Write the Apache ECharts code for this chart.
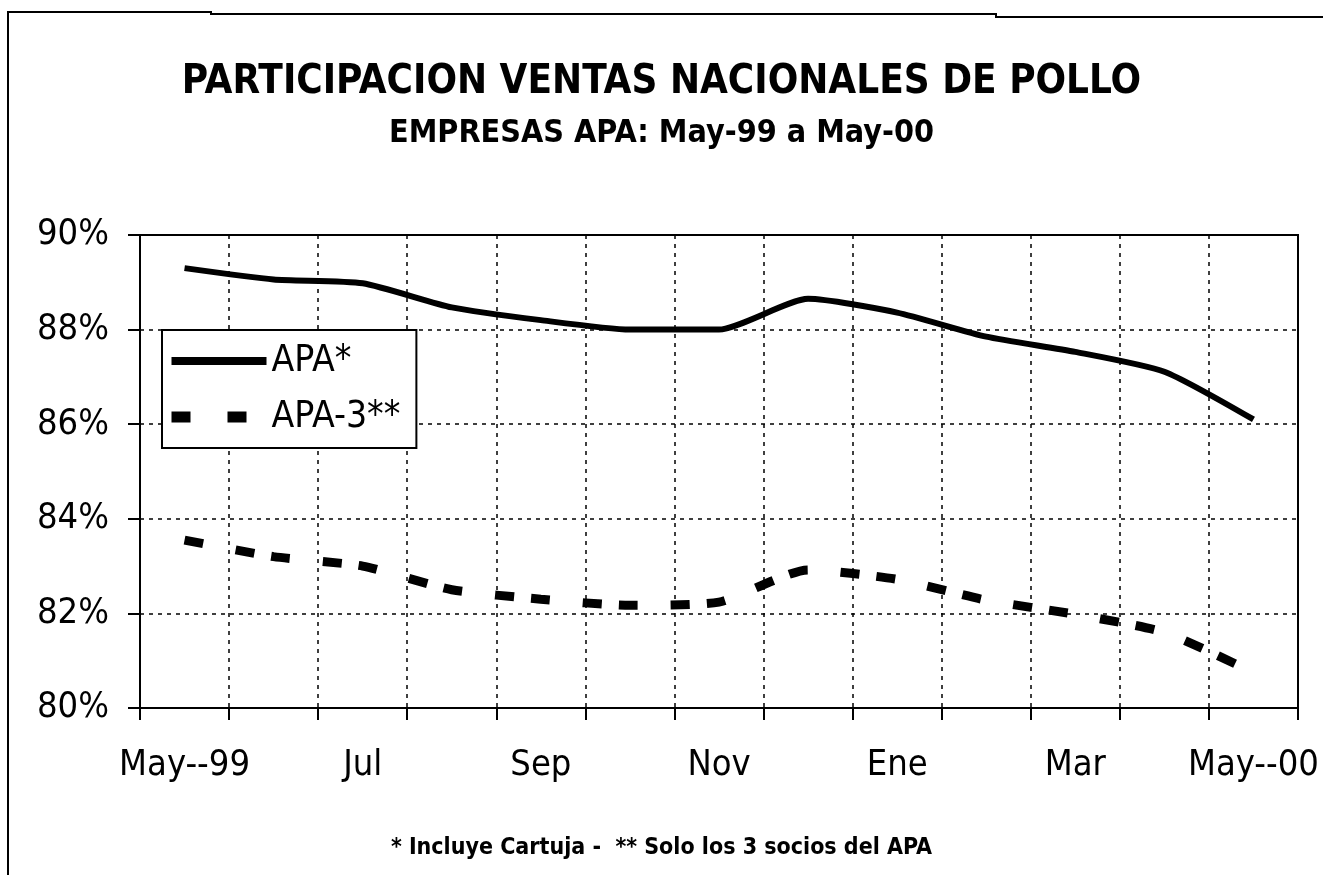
<!DOCTYPE html>
<html>
<head>
<meta charset="utf-8">
<script src="https://cdn.jsdelivr.net/npm/echarts@6/dist/echarts.min.js"></script>
<style>
html, body { margin: 0; padding: 0; background: #fff; }
#chart { width: 1323px; height: 875px; }
</style>
</head>
<body>
<div id="chart"></div>
<script>
// months May-99 .. May-00 (label shown every other month)
var months = ['May--99', 'Jun', 'Jul', 'Ago', 'Sep', 'Oct', 'Nov', 'Dic', 'Ene', 'Feb', 'Mar', 'Abr', 'May--00'];
// share of national chicken sales, %
var apa  = [89.30, 89.06, 88.98, 88.47, 88.20, 88.00, 88.00, 88.65, 88.36, 87.85, 87.53, 87.11, 86.10];
var apa3 = [83.55, 83.20, 83.00, 82.50, 82.30, 82.17, 82.24, 82.92, 82.72, 82.28, 81.98, 81.60, 80.75];
var yMin = 80, yMax = 90, yStep = 2;

var narrow = "'Liberation Sans Narrow', 'Arial Narrow', 'DejaVu Sans Condensed', sans-serif";
var dotted = { color: '#000', width: 1.5, type: [4, 5] };

var dom = document.getElementById('chart');
var myChart = echarts.init(dom);
var option = {
    backgroundColor: '#fff',
    animation: false,
    title: [{
        text: 'PARTICIPACION VENTAS NACIONALES DE POLLO',
        subtext: 'EMPRESAS APA: May-99 a May-00',
        left: 'center',
        top: 63,
        padding: 0,
        itemGap: 15,
        textStyle: { fontFamily: narrow, fontSize: 40, fontWeight: 'bold', color: '#000' },
        subtextStyle: { fontFamily: narrow, fontSize: 32, fontWeight: 'bold', color: '#000' }
    }, {
        text: '* Incluye Cartuja -  ** Solo los 3 socios del APA',
        left: 'center',
        top: 837,
        padding: 0,
        textStyle: { fontFamily: narrow, fontSize: 23, fontWeight: 'bold', color: '#000' }
    }],
    legend: {
        orient: 'vertical',
        left: 162,
        top: 330,
        padding: [9, 16, 9, 4],
        itemWidth: 95,
        itemHeight: 14,
        itemGap: 12,
        backgroundColor: '#fff',
        borderColor: '#000',
        borderWidth: 2,
        itemStyle: { opacity: 0 },
        textStyle: { fontFamily: narrow, fontSize: 37, lineHeight: 44, color: '#000' },
        data: [
            { name: 'APA*', lineStyle: { width: 8 } },
            { name: 'APA-3**', lineStyle: { width: 11, type: [19, 37, 19, 60], cap: 'butt' } }
        ]
    },
    grid: {
        left: 140,
        right: 25,
        top: 235,
        bottom: 167,
        show: true,
        borderColor: '#000',
        borderWidth: 2,
        outerBoundsMode: 'none'
    },
    xAxis: {
        type: 'category',
        data: months,
        boundaryGap: true,
        axisLine: { lineStyle: { color: '#000', width: 2 } },
        axisTick: { show: true, interval: 0, length: 12, lineStyle: { color: '#000', width: 2 } },
        axisLabel: { interval: 1, margin: 40, fontFamily: narrow, fontSize: 36, color: '#000' },
        splitLine: { show: true, interval: 0, lineStyle: dotted }
    },
    yAxis: {
        type: 'value',
        min: yMin,
        max: yMax,
        interval: yStep,
        axisLine: { show: true, lineStyle: { color: '#000', width: 2 } },
        axisTick: { show: true, length: 12, lineStyle: { color: '#000', width: 2 } },
        axisLabel: { formatter: '{value}%', margin: 31, fontFamily: narrow, fontSize: 36, color: '#000' },
        splitLine: { show: true, lineStyle: dotted }
    },
    series: [
        {
            name: 'APA*',
            type: 'line',
            data: apa,
            symbol: 'none',
            smooth: 0.2,
            itemStyle: { color: '#000' },
            lineStyle: { color: '#000', width: 6 }
        },
        {
            name: 'APA-3**',
            type: 'line',
            data: apa3,
            symbol: 'none',
            smooth: 0.2,
            itemStyle: { color: '#000' },
            lineStyle: { color: '#000', width: 9, type: [19, 33, 19, 17], cap: 'butt' }
        }
    ],
    graphic: [
        {
            type: 'polyline',
            shape: { points: [[8, 875], [8, 12], [211, 12], [211, 14], [996, 14], [996, 17], [1323, 17]] },
            style: { stroke: '#000', lineWidth: 2, fill: null }
        }
    ]
};
myChart.setOption(option);
</script>
</body>
</html>
